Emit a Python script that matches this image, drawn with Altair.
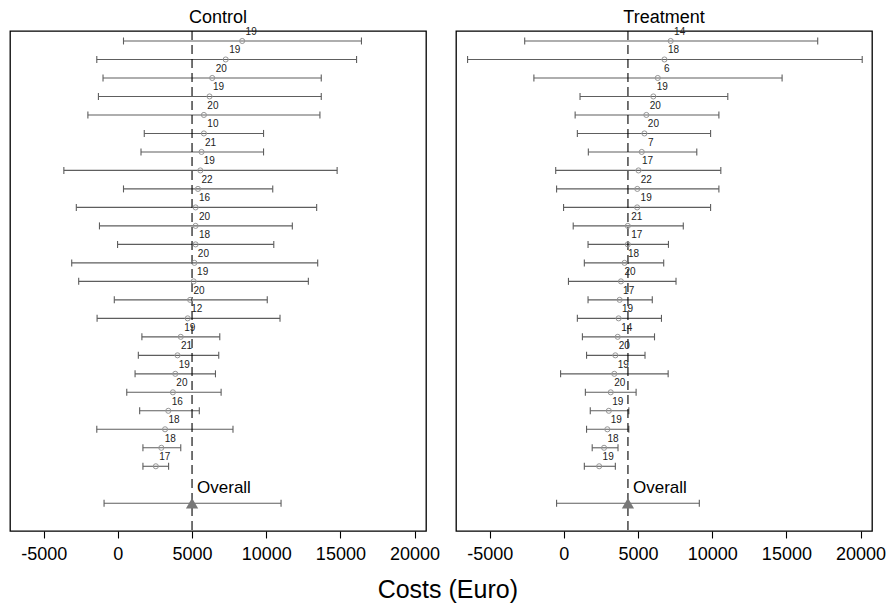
import altair as alt
import pandas as pd

# ---- data ----
ctrl_n = [19, 19, 20, 19, 20, 10, 21, 19, 22, 16, 20, 18, 20, 19, 20, 12, 19, 21, 19, 20, 16, 18, 18, 17]
ctrl_mean = [8380, 7270, 6360, 6180, 5800, 5800, 5640, 5560, 5400, 5240, 5240, 5240,
             5160, 5110, 4870, 4710, 4240, 4020, 3870, 3710, 3400, 3180, 2930, 2560]
ctrl_lo = [380, -1420, -1000, -1310, -2020, 1780, 1560, -3640, 380, -2800, -1240, -20,
           -3110, -2640, -240, -1400, 1620, 1380, 1160, 600, 1470, -1420, 1690, 1690]
ctrl_hi = [16420, 16090, 13710, 13710, 13620, 9820, 9820, 14780, 10440, 13400, 11760, 10510,
           13470, 12840, 10070, 10930, 6870, 6800, 6580, 6960, 5490, 7760, 4240, 3420]
ctrl_overall = [5000, -930, 11000]  # mean, lower, upper

trt_n = [14, 18, 6, 19, 20, 20, 7, 17, 22, 19, 21, 17, 18, 20, 17, 19, 14, 20, 19, 20, 19, 19, 18, 19]
trt_mean = [7200, 6780, 6330, 6030, 5560, 5430, 5250, 5030, 4950, 4940, 4310, 4310,
            4090, 3850, 3760, 3690, 3630, 3470, 3400, 3160, 3030, 2930, 2710, 2380]
trt_lo = [-2640, -6490, -2020, 1090, 760, 910, 1650, -550, -490, -20, 630, 1630,
          1380, 310, 1630, 910, 1250, 1530, -220, 1450, 1780, 1530, 1910, 1380]
trt_hi = [17110, 20110, 14710, 11050, 10450, 9890, 8960, 10580, 10450, 9890, 8050, 7050,
          6730, 7560, 5960, 6580, 6110, 5470, 7030, 4870, 4380, 4380, 3650, 3470]
trt_overall = [4320, -490, 9130]

panel_titles = ["Control", "Treatment"]
x_ticks = [-5000, 0, 5000, 10000, 15000, 20000]
x_domain = [-7270, 20770]
y_domain = [0.46, 27.5]
overall_pos = 26

BAR_COLOR = "#5e5e5e"
PT_COLOR = "#969696"
FONT = "Liberation Sans"
W, H = 416, 500


def panel(title, n, mean, lo, hi, overall):
    df = pd.DataFrame({
        "pos": list(range(1, len(n) + 1)),
        "n": [str(v) for v in n],
        "mean": mean,
        "lo": lo,
        "hi": hi,
    })
    ov = pd.DataFrame({
        "pos": [overall_pos],
        "mean": [overall[0]],
        "lo": [overall[1]],
        "hi": [overall[2]],
        "label": ["Overall"],
        "title": [title],
    })
    xs = alt.Scale(domain=x_domain, nice=False, zero=False)
    ys = alt.Scale(domain=y_domain, reverse=True, nice=False, zero=False)
    xaxis = alt.Axis(values=x_ticks, labelExpr="'' + datum.value", title=None, grid=False,
                     ticks=True, tickSize=7, tickColor="black", tickWidth=1.1, domain=False,
                     labelFontSize=18, labelColor="black", labelPadding=7,
                     labelFont=FONT)
    Y = alt.Y("pos:Q", scale=ys, axis=None)

    base = alt.Chart(df)
    bars = base.mark_rule(color=BAR_COLOR, strokeWidth=1.1).encode(
        x=alt.X("lo:Q", scale=xs, axis=xaxis), x2="hi:Q", y=Y)
    caps = base.transform_fold(["lo", "hi"], as_=["end", "val"]).mark_tick(
        orient="vertical", size=7, thickness=1.1, color=BAR_COLOR, opacity=1).encode(
        x=alt.X("val:Q", scale=xs), y=Y)
    pts = base.mark_point(shape="circle", size=26, filled=False, color=PT_COLOR,
                          strokeWidth=1, opacity=1).encode(x=alt.X("mean:Q", scale=xs), y=Y)
    labels = base.mark_text(fontSize=10, dx=9, dy=-9, color="#222222", font=FONT).encode(
        x=alt.X("mean:Q", scale=xs), y=Y, text="n:N")

    ob = alt.Chart(ov)
    dash = ob.mark_rule(color="black", strokeDash=[9, 5], strokeWidth=1.1).encode(
        x=alt.X("mean:Q", scale=xs))
    obar = ob.mark_rule(color=BAR_COLOR, strokeWidth=1.1).encode(
        x=alt.X("lo:Q", scale=xs), x2="hi:Q", y=Y)
    ocaps = ob.transform_fold(["lo", "hi"], as_=["end", "val"]).mark_tick(
        orient="vertical", size=7, thickness=1.1, color=BAR_COLOR, opacity=1).encode(
        x=alt.X("val:Q", scale=xs), y=Y)
    otri = ob.mark_point(shape="triangle-up", filled=True, size=150, color="#787878",
                         opacity=1).encode(x=alt.X("mean:Q", scale=xs), y=Y)
    otext = ob.mark_text(align="left", baseline="middle", dx=5, dy=-15, fontSize=17,
                         color="black", font=FONT).encode(
        x=alt.X("mean:Q", scale=xs), y=Y, text="label:N")
    ttl = ob.mark_text(align="center", baseline="middle", fontSize=18, color="black",
                       font=FONT).encode(x=alt.value(W / 2), y=alt.value(-13), text="title:N")

    return alt.layer(bars, caps, obar, ocaps, dash, pts, labels, otri, otext, ttl).properties(
        width=W, height=H)


c1 = panel(panel_titles[0], ctrl_n, ctrl_mean, ctrl_lo, ctrl_hi, ctrl_overall)
c2 = panel(panel_titles[1], trt_n, trt_mean, trt_lo, trt_hi, trt_overall)

chart = alt.hconcat(c1, c2, spacing=30, bounds="flush").properties(
    title=alt.TitleParams("Costs (Euro)", orient="bottom", anchor="middle", fontSize=25,
                          fontWeight="normal", font=FONT, color="black", offset=14),
    padding={"left": 1, "top": 0, "right": 0, "bottom": 0},
).configure(font=FONT).configure_view(stroke="black", strokeWidth=1.3)

chart.save("out.html", embed_options={"renderer": "svg", "actions": False})
